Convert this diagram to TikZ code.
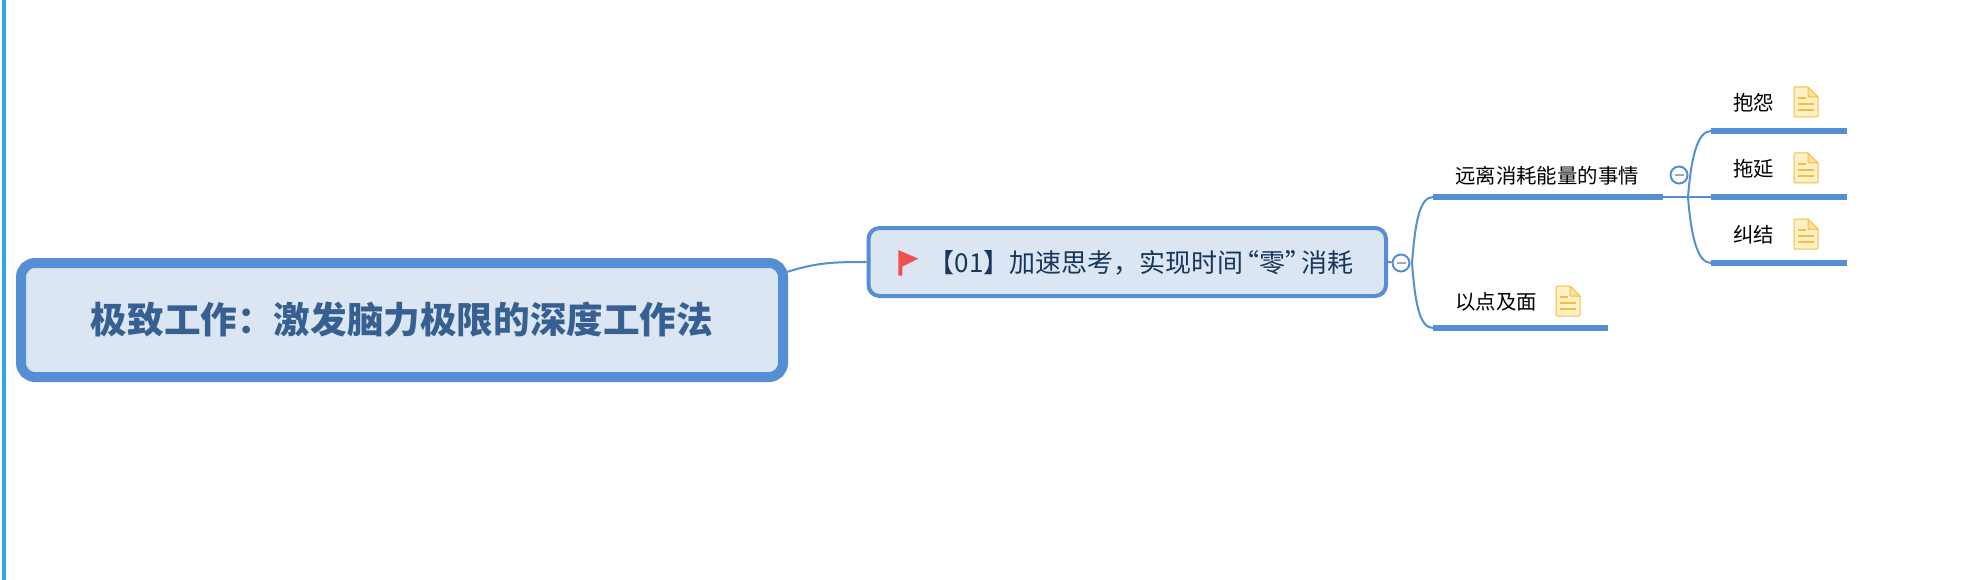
\documentclass[tikz,border=0pt]{standalone}
\usepackage{fontspec}
\setmainfont{Noto Sans CJK SC}
\usepackage{xcolor}
\usepackage{tikz}
\usetikzlibrary{calc}
\definecolor{linkblue}{HTML}{558ED5}
\definecolor{boxfill}{HTML}{DCE6F2}
\definecolor{roottext}{HTML}{376092}
\definecolor{maintext}{HTML}{17375E}
\definecolor{sidebar}{HTML}{2FA9E0}
\definecolor{flagred}{HTML}{F15050}
\definecolor{notefill}{HTML}{FFF0C8}
\definecolor{noteline}{HTML}{F5BE3C}
\definecolor{minusblue}{HTML}{9AA5CC}
\tikzset{
  rootbox/.style={draw=linkblue, fill=boxfill, line width=10pt, rounded corners=14pt,
    minimum width=762pt, minimum height=114pt, inner sep=0pt, text=roottext,
    font=\fontsize{36.6}{40}\selectfont\bfseries},
  mainbox/.style={draw=linkblue, fill=boxfill, line width=4pt, rounded corners=11pt,
    minimum width=517.5pt, minimum height=68pt, inner sep=0pt},
  maintitle/.style={inner sep=0pt, text=maintext, font=\fontsize{26}{30}\selectfont},
  leaftext/.style={inner sep=0pt, text=black, font=\fontsize{20.4}{24}\selectfont},
  underbar/.style={linkblue, line width=6pt},
  link/.style={linkblue, line width=2pt},
  foldmark/.style={circle, draw=linkblue, fill=white, line width=2pt, minimum size=17pt, inner sep=0pt},
  minusbar/.style={minusblue, line width=2pt}
}
% note icon, top left corner at #1
\newcommand{\noteicon}[1]{
  \draw [noteline, fill=notefill, line width=1pt, rounded corners=1pt] ($(#1)+(0,0)$) -- ($(#1)+(14,0)$) -- ($(#1)+(24,10)$) -- ($(#1)+(24,30)$) -- ($(#1)+(0,30)$) -- cycle;
  \draw [noteline, fill=notefill!70!noteline, line width=1pt] ($(#1)+(14,0)$) -- ($(#1)+(14,10)$) -- ($(#1)+(24,10)$) -- cycle;
  \draw [noteline, line width=2pt] ($(#1)+(4,11)$) -- ($(#1)+(12,11)$);
  \draw [noteline, line width=2pt] ($(#1)+(4,17)$) -- ($(#1)+(20,17)$);
  \draw [noteline, line width=2pt] ($(#1)+(4,23)$) -- ($(#1)+(20,23)$);
}
\begin{document}
\begin{tikzpicture}[x=1pt,y=-1pt]
\useasboundingbox (0,0) rectangle (1964,580);
\fill [sidebar] (2,0) rectangle (6,580);

\node [rootbox] (root) at (402,320) {极致工作：激发脑力极限的深度工作法};
\node [mainbox] (main) at (1127.25,262) {};
\node [maintitle, anchor=east] (mainlabel) at (1354,263) {【01】加速思考，实现时间\hspace{-10pt}“零”\hspace{-10pt}消耗};
\fill [flagred] (898.3,250) -- (918.3,258.7) -- (902.3,266.7) -- (902.3,275.7) -- (898.3,275.7) -- cycle;

\coordinate (rootout) at (787,272);
\draw [link] (rootout) to[out=18,in=180] (main.west);

\node [foldmark] (mainfold) at (1401,263) {};
\draw [link] (main.east) -- (mainfold);
\draw [minusbar] (1396.5,263) -- (1405.5,263);

% first level
\coordinate (far) at (1433,197);
\coordinate (farend) at (1663,197);
\coordinate (point) at (1433,328);
\coordinate (pointend) at (1608,328);
\draw [link] (1412,263) .. controls (1415,225) and (1419,197) .. (far);
\draw [link] (1412,263) .. controls (1415,301) and (1419,328) .. (point);
\draw [underbar] (far) -- (farend);
\draw [underbar] (point) -- (pointend);
\node [leaftext, anchor=west] (farlabel) at (1455,176) {远离消耗能量的事情};
\node [leaftext, anchor=west] (pointlabel) at (1455,302) {以点及面};
\noteicon{1556,286}

\node [foldmark] (farfold) at (1679,175) {};
\draw [minusbar] (1674.5,175) -- (1683.5,175);

% second level
\coordinate (bao) at (1711,131);
\coordinate (tuo) at (1711,197);
\coordinate (jiu) at (1711,263);
\draw [link] (farend) -- (tuo);
\draw [link] (1688,197) .. controls (1691,159) and (1697,131) .. (bao);
\draw [link] (1688,197) .. controls (1691,235) and (1697,263) .. (jiu);
\foreach \y/\t in {131/抱怨,197/拖延,263/纠结}
{
  \draw [underbar] (1711,\y) -- (1847,\y);
  \node [leaftext, anchor=west] at (1733,\y-28) {\t};
}
\noteicon{1794,87}
\noteicon{1794,153}
\noteicon{1794,219}
\end{tikzpicture}
\end{document}
